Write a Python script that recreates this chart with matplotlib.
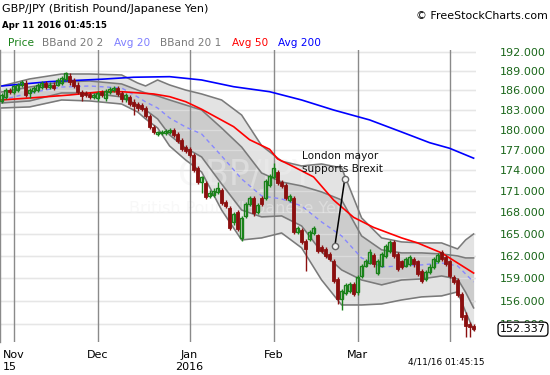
import numpy as np
import pandas as pd
import matplotlib
matplotlib.use("Agg")
import matplotlib.pyplot as plt
import matplotlib.transforms as mtransforms
from matplotlib.ticker import NullLocator

# ---------------- data ----------------
dates = pd.bdate_range("2015-10-28", "2016-04-11")

opens = [184.4, 184.9, 186.0, 185.7, 186.0, 186.75, 187.1, 185.55, 185.85, 186.0,
         186.45, 187.1, 186.45, 186.9, 186.9, 187.1, 187.7, 188.3, 187.55, 186.9,
         185.7, 185.55, 185.4, 184.9, 184.75, 185.7, 184.75, 185.7, 186.0, 186.3,
         185.55, 184.6, 184.9, 184.25, 183.95, 183.8, 183.3, 182.1, 180.45, 179.4,
         179.55, 179.55, 179.7, 180.0, 179.4, 178.5, 177.45, 177.15, 176.15, 174.3,
         172.3, 172.15, 170.3, 170.45, 170.85, 171.15, 169.45, 168.55, 166.65, 168.0,
         164.45, 167.45, 169.15, 170.0, 168.0, 170.0, 170.0, 171.85, 173.0, 173.7,
         172.3, 171.85, 169.7, 170.0, 165.25, 165.55, 163.95, 164.2, 165.15, 164.75,
         163.1, 162.85, 162.2, 161.3, 158.85, 156.25, 157.0, 157.3, 158.2, 157.15,
         159.25, 160.65, 161.05, 162.1, 159.7, 160.65, 162.0, 162.6, 163.8, 162.2,
         161.2, 160.65, 160.9, 161.6, 161.2, 159.95, 158.85, 159.8, 160.5, 161.3,
         162.5, 161.85, 161.2, 159.15, 158.7, 156.9, 154.1, 153.0, 152.75]
closes = [185.2, 186.0, 185.7, 186.6, 186.75, 187.25, 185.2, 186.0, 186.3, 186.75,
          187.1, 186.45, 186.9, 186.3, 187.55, 187.85, 188.65, 187.25, 186.6, 185.7,
          185.05, 185.2, 184.9, 185.2, 185.55, 185.2, 185.85, 186.15, 186.3, 185.4,
          184.6, 185.2, 183.95, 183.65, 183.3, 183.15, 182.1, 180.45, 179.7, 179.7,
          179.7, 179.85, 180.0, 179.25, 178.35, 177.15, 176.85, 176.15, 174.0, 172.3,
          173.0, 170.15, 170.7, 171.0, 171.45, 169.3, 168.85, 165.8, 167.75, 165.7,
          167.2, 169.15, 170.0, 167.85, 169.0, 169.15, 172.45, 173.15, 174.3, 172.15,
          171.7, 170.0, 170.3, 165.25, 165.8, 163.8, 162.85, 165.25, 165.8, 162.6,
          162.6, 162.0, 161.6, 158.6, 156.25, 157.3, 158.05, 158.2, 156.9, 159.15,
          160.65, 161.3, 162.5, 160.8, 161.3, 162.2, 163.25, 163.8, 162.0, 160.25,
          160.5, 161.6, 161.85, 160.8, 159.55, 158.6, 159.8, 160.5, 161.6, 162.1,
          161.6, 160.9, 159.25, 158.45, 156.8, 153.85, 152.75, 152.6, 152.337]
highs = [185.55, 186.3, 186.3, 186.9, 187.1, 187.55, 187.55, 186.3, 186.6, 187.1,
         187.4, 187.4, 187.25, 187.25, 187.85, 188.2, 188.8, 188.65, 187.85, 187.25,
         186.0, 185.85, 185.7, 185.55, 185.85, 186.0, 186.15, 186.45, 186.6, 186.6,
         185.85, 185.55, 185.2, 184.6, 184.25, 184.1, 183.65, 182.4, 180.75, 179.85,
         180.0, 180.15, 180.3, 180.3, 179.7, 178.8, 177.75, 177.45, 176.55, 174.55,
         173.15, 172.45, 171.15, 171.45, 172.3, 171.45, 169.7, 168.85, 168.0, 168.3,
         167.45, 169.45, 170.3, 170.3, 169.3, 170.3, 172.7, 173.45, 175.0, 174.0,
         172.6, 172.15, 170.6, 170.3, 166.1, 165.8, 164.2, 165.55, 166.1, 165.0,
         163.4, 163.1, 162.5, 161.6, 159.15, 157.55, 158.35, 158.45, 158.45, 159.4,
         160.9, 161.6, 162.85, 162.35, 161.6, 162.5, 163.55, 164.1, 164.1, 162.5,
         161.45, 161.85, 162.1, 161.85, 161.45, 160.25, 160.1, 160.8, 161.85, 162.35,
         162.75, 162.1, 161.45, 159.4, 159.0, 157.15, 154.5, 153.3, 153.0]
lows = [184.1, 184.6, 185.4, 185.4, 185.7, 186.45, 184.9, 184.75, 185.55, 185.7,
        186.15, 186.15, 186.15, 186.0, 186.6, 186.75, 187.4, 186.9, 186.3, 185.4,
        184.4, 184.9, 184.6, 184.6, 184.4, 184.9, 184.4, 185.4, 185.7, 185.05,
        184.25, 184.25, 183.65, 182.25, 182.85, 182.85, 181.8, 180.15, 179.4, 179.1,
        179.25, 179.25, 179.4, 178.95, 178.05, 176.85, 176.55, 175.85, 173.7, 172.0,
        170.7, 169.85, 170.0, 170.15, 170.6, 169.0, 168.55, 165.55, 166.25, 165.4,
        163.95, 167.2, 168.85, 167.45, 167.75, 168.85, 169.7, 171.6, 172.7, 171.85,
        171.45, 169.7, 169.45, 165.0, 165.0, 163.55, 159.95, 163.95, 164.75, 162.35,
        162.35, 161.7, 161.3, 158.35, 155.6, 154.8, 156.8, 157.0, 156.65, 156.8,
        159.0, 160.4, 160.8, 160.5, 159.4, 160.4, 161.7, 162.35, 161.7, 159.95,
        160.25, 160.4, 160.65, 160.5, 159.25, 158.35, 158.6, 159.55, 160.25, 161.05,
        161.3, 160.65, 159.0, 158.2, 156.55, 153.55, 151.4, 151.4, 152.05]

# moving averages read at sample sessions (session number from start)
sma200_session = [0, 12, 25, 33, 42, 50, 58, 67, 75, 83, 92, 100, 107, 112, 118]
sma200 = [186.67, 187.35, 187.73, 188.04, 188.13, 187.61, 186.56, 185.78, 184.5,
          182.96, 181.45, 179.63, 178.03, 177.2, 175.74]
sma50_session = [0, 8, 17, 25, 30, 38, 42, 46, 50, 58, 62, 67, 69, 73, 78, 83, 88,
                 93, 100, 104, 110, 114, 118]
sma50 = [184.5, 184.85, 185.27, 185.78, 185.78, 185.43, 185.01, 184.24, 183.08,
         180.43, 178.47, 177.05, 175.63, 174.49, 173.0, 169.7, 167.26, 165.86,
         164.41, 163.72, 162.36, 161.0, 159.65]

# Bollinger bands (20,2) / (20,1) and 20-day average read at sample sessions
bb_session = [0, 7, 15, 22, 30, 34, 36, 39, 42, 46, 50, 55, 60, 65, 70, 75, 80, 85,
              90, 95, 100, 105, 110, 114, 116, 118]
bb2_upper = [186.67, 187.77, 188.55, 188.55, 188.4, 187.14, 186.67, 187.61, 186.83,
             186.04, 185.43, 184.5, 182.2, 177.6, 175.3, 174.6, 174.89, 174.31,
             167.18, 164.41, 163.86, 163.72, 163.72, 162.9, 164.13, 164.95]
bb1_upper = [185.74, 186.51, 187.3, 187.45, 186.99, 186.04, 185.58, 185.12, 184.5,
             183.73, 182.96, 180.23, 177.39, 173.58, 172.28, 171.71, 170.85, 169.71,
             164.68, 162.78, 162.36, 162.36, 162.22, 161.95, 161.68, 161.68]
sma20 = [184.5, 185.58, 186.51, 186.67, 186.36, 184.97, 184.2, 183.27, 181.75,
         180.38, 179.33, 176.07, 172.72, 170.28, 169.86, 168.86, 166.62, 164.68,
         161.68, 160.47, 160.61, 160.74, 161.0, 160.61, 159.53, 158.47]
bb1_lower = [184.04, 184.35, 185.58, 185.58, 184.97, 183.73, 182.96, 181.6, 179.18,
             177.24, 175.92, 172.0, 168.29, 167.32, 167.46, 166.06, 162.49, 160.07,
             158.73, 158.08, 158.73, 158.87, 159.26, 158.87, 157.11, 155.07]
bb2_lower = [183.27, 183.43, 184.5, 184.35, 183.88, 182.66, 181.6, 180.23, 177.54,
             175.48, 173.72, 168.29, 164.13, 164.41, 165.09, 163.05, 158.73, 155.45,
             155.45, 155.58, 156.1, 156.5, 156.63, 157.16, 154.56, 152.24]

price_ticks = [192, 189, 186, 183, 180, 177, 174, 171, 168, 165, 162, 159, 156, 153]
month_labels = ["Nov\n15", "Dec", "Jan\n2016", "Feb", "Mar", ""]
last_price = 152.337

annot_session = [83.3, 85.8]
annot_price = [163.25, 172.75]

# ---------------- styling ----------------
GREEN = "#1a821a"
RED = "#8b0f0f"
AXGREEN = "#1a661a"
BAND_LINE = "#7a7a7a"

fig = plt.figure(figsize=(5.5, 3.75), dpi=100)
W, H = 550.0, 375.0
ax = fig.add_axes([0, 33 / H, 476 / W, 292 / H])
ax.set_facecolor("white")

x = np.arange(len(dates))
o = np.array(opens); c = np.array(closes); hi = np.array(highs); lo = np.array(lows)

ax.set_yscale("log")
ax.set_ylim(150.71, 192.37)
ax.set_xlim(-0.4, 118.6)

# gridlines
for v in price_ticks:
    ax.axhline(v, color="#e4e4e4", lw=1.0, zorder=0.5)

# bands
bx = np.array(bb_session)
ax.fill_between(bx, bb2_lower, bb2_upper, color="#e3e3e3", lw=0, zorder=1)
ax.fill_between(bx, bb1_lower, bb1_upper, color="#cccccc", lw=0, zorder=1.1)
for v in price_ticks:
    ax.axhline(v, color="#e8e8e8", lw=1.0, alpha=0.55, zorder=1.2)

# watermark
ax.text(61, 173.3, "GBP/JPY", fontsize=25, color="#f0f0f0", alpha=0.45,
        ha="center", va="center", zorder=1.3)
ax.text(59, 168.5, "British Pound/Japanese Yen", fontsize=11.5, color="#f0f0f0",
        alpha=0.45, ha="center", va="center", zorder=1.3)

# month separators
month_first = [i for i in range(len(dates)) if i == 0 or dates[i].month != dates[i - 1].month][1:]
for m in month_first:
    ax.axvline(m, color="#8a8a8a", lw=1.0, zorder=2)

for arr in (bb2_upper, bb1_upper, bb1_lower, bb2_lower):
    ax.plot(bx, arr, color=BAND_LINE, lw=1.15, zorder=2.2)
ax.plot(bx, sma20, color="#8888ff", lw=1.0, ls=(0, (3, 2.5)), zorder=2.3)
ax.plot(sma200_session, sma200, color="#0000ff", lw=1.2, zorder=2.4)
ax.plot(sma50_session, sma50, color="#ff0000", lw=1.2, zorder=2.4)

# candles
up = c >= o
ax.vlines(x[up], lo[up], hi[up], color=GREEN, lw=1.0, zorder=5)
ax.vlines(x[~up], lo[~up], hi[~up], color=RED, lw=1.0, zorder=5)
bw = 0.75
ax.bar(x[up], c[up] - o[up], bottom=o[up], width=bw, facecolor="none",
       edgecolor=GREEN, lw=1.0, zorder=6)
ax.bar(x[~up], o[~up] - c[~up], bottom=c[~up], width=bw, facecolor=RED,
       edgecolor=RED, lw=0.6, zorder=6)

# annotation
ax.plot(annot_session, annot_price, color="black", lw=1.1, zorder=7)
ax.plot(annot_session, annot_price, ls="none", marker="o", ms=4.5, mfc="#f4f4f4",
        mec="#666666", mew=1.0, zorder=8)
ax.text(75.2, 175.1, "London mayor\nsupports Brexit", fontsize=7.6, color="#111111",
        ha="left", va="center", linespacing=1.45, zorder=8)

# axes styling
for s in ("top", "right", "bottom"):
    ax.spines[s].set_visible(False)
ax.spines["left"].set_color("#8a8a8a")
ax.spines["left"].set_linewidth(1.0)

ax.yaxis.tick_right()
ax.yaxis.set_minor_locator(NullLocator())
ax.set_yticks(price_ticks)
ax.set_yticklabels([f"{v:.3f}" for v in price_ticks])
ax.tick_params(axis="y", length=0, pad=17, labelsize=8, labelcolor=AXGREEN)

ax.set_xticks(month_first)
ax.set_xticklabels(month_labels)
ax.tick_params(axis="x", length=0, pad=6, labelsize=8, labelcolor="black")
for t in ax.get_xticklabels():
    t.set_linespacing(1.25)
    if t.get_text().startswith("Nov"):
        t.set_multialignment("left")

# last price box
trans = mtransforms.blended_transform_factory(ax.transAxes, ax.transData)
ax.text(523 / 476, last_price, f"{last_price:.3f}", transform=trans, fontsize=8,
        ha="center", va="center", color="black", zorder=10, clip_on=False,
        bbox=dict(boxstyle="round,pad=0.18,rounding_size=0.35", fc="white",
                  ec="black", lw=0.9))

# header texts
def fpos(px, py):
    return px / W, 1 - py / H

fig.text(*fpos(2, 9), "GBP/JPY (British Pound/Japanese Yen)", fontsize=8,
         ha="left", va="center", color="black")
fig.text(*fpos(2, 25), "Apr 11 2016 01:45:15", fontsize=6.2, fontweight="bold",
         ha="left", va="center", color="black")
fig.text(*fpos(548, 16), "\u00a9 FreeStockCharts.com", fontsize=7.9,
         ha="right", va="center", color="black")

legend_items = [("Price", GREEN, 8), ("BBand 20 2", "#7a7a7a", 42),
                ("Avg 20", "#7f7fff", 114), ("BBand 20 1", "#7a7a7a", 160),
                ("Avg 50", "#ff0000", 232), ("Avg 200", "#0000ff", 278)]
for label, col, px in legend_items:
    fig.text(*fpos(px, 43), label, fontsize=7.6, ha="left", va="center", color=col)

fig.text(*fpos(446, 362), "4/11/16 01:45:15", fontsize=6.4, ha="center",
         va="center", color="black")

fig.savefig("out.png", dpi=100)
